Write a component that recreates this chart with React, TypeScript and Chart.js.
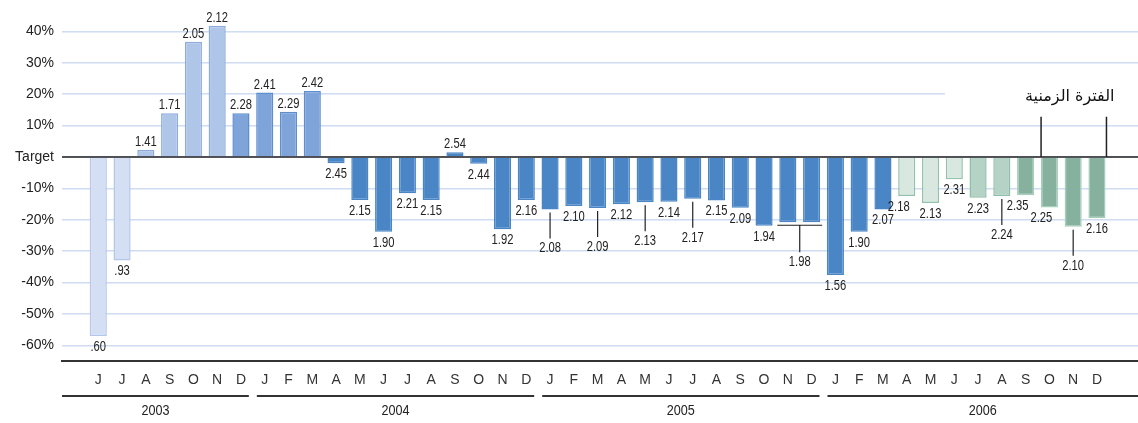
import { useEffect, useRef } from 'react';
import { Chart, registerables } from 'chart.js';

Chart.register(...registerables);

const months = ['J','J','A','S','O','N','D',
  'J','F','M','A','M','J','J','A','S','O','N','D',
  'J','F','M','A','M','J','J','A','S','O','N','D',
  'J','F','M','A','M','J','J','A','S','O','N','D'];

const values = [-57, -33, 2.2, 13.9, 36.7, 41.8, 13.9,
  20.5, 14.4, 21.0, -2.0, -13.7, -23.8, -11.6, -13.7, 1.5, -2.2, -23.0, -13.7,
  -16.7, -15.6, -16.3, -15.1, -14.4, -14.3, -13.3, -13.9, -16.2, -21.9, -20.8, -20.8,
  -37.6, -23.8, -16.7, -12.4, -14.7, -7.1, -13.0, -12.4, -12.2, -16.1, -22.2, -19.5];

const valueLabels = ['.60', '.93', '1.41', '1.71', '2.05', '2.12', '2.28',
  '2.41', '2.29', '2.42', '2.45', '2.15', '1.90', '2.21', '2.15', '2.54', '2.44', '1.92', '2.16',
  '2.08', '2.10', '2.09', '2.12', '2.13', '2.14', '2.17', '2.15', '2.09', '1.94', '1.98', '',
  '1.56', '1.90', '2.07', '2.18', '2.13', '2.31', '2.23', '2.24', '2.35', '2.25', '2.10', '2.16'];

const leaderIdx = [19, 21, 23, 25, 38, 41];
const bracketPair = [29, 30];
const shiftLeftIdx = [34, 39, 40];

const years = ['2003', '2004', '2005', '2006'];
const yearStarts = [0, 7, 19, 31];

const yTicks = [40, 30, 20, 10, 0, -10, -20, -30, -40, -50, -60];
const periodLabel = 'الفترة الزمنية';
const periodBounds = [39.65, 42.4];

const FONT = '"Liberation Sans", Arial, sans-serif';

function barColors(i: number): [string, string] {
  if (i <= 1) return ['#d4dff3', '#b3c7eb'];
  if (i <= 5) return ['#b0c6e8', '#8dacde'];
  if (i <= 9) return ['#7ea4d9', '#5d8ed0'];
  if (i <= 33) return ['#4a86c6', '#4a86c6'];
  if (i <= 36) return ['#d8e8e1', '#92c2aa'];
  if (i <= 38) return ['#b4d3c6', '#90bfa9'];
  return ['#86b19e', '#a6cebb'];
}

function narrowText(ctx: CanvasRenderingContext2D, txt: string, x: number, y: number, sx = 0.8) {
  ctx.save();
  ctx.translate(x, y);
  ctx.scale(sx, 1);
  ctx.fillText(txt, 0, 0);
  ctx.restore();
}

const overlay = {
  id: 'overlay',
  afterDraw(chart: any) {
    const { ctx, chartArea, scales } = chart;
    const x = scales.x;
    const y = scales.y;
    const meta = chart.getDatasetMeta(0);
    ctx.save();
    // target line
    const y0 = y.getPixelForValue(0);
    ctx.strokeStyle = '#222';
    ctx.lineWidth = 1.5;
    ctx.beginPath();
    ctx.moveTo(chartArea.left, y0);
    ctx.lineTo(chartArea.right, y0);
    ctx.stroke();

    ctx.font = '14px ' + FONT;
    ctx.fillStyle = '#222';
    ctx.strokeStyle = '#222';
    ctx.lineWidth = 1.2;
    ctx.textAlign = 'center';
    values.forEach((v, i) => {
      const bar = meta.data[i];
      const cx = bar.x - (shiftLeftIdx.includes(i) ? 8 : 0);
      const end = bar.y;
      const txt = valueLabels[i];
      if (v >= 0) {
        ctx.textBaseline = 'alphabetic';
        narrowText(ctx, txt, cx, end - 4);
      } else if (leaderIdx.includes(i)) {
        ctx.beginPath();
        ctx.moveTo(bar.x, end + 3);
        ctx.lineTo(bar.x, end + 29);
        ctx.stroke();
        ctx.textBaseline = 'top';
        narrowText(ctx, txt, bar.x, end + 32);
      } else if (i === bracketPair[0]) {
        const b2 = meta.data[bracketPair[1]];
        const l = bar.x - bar.width / 2 - 2;
        const r = b2.x + b2.width / 2 + 2;
        const by = Math.max(end, b2.y) + 3;
        const mx = (bar.x + b2.x) / 2;
        ctx.beginPath();
        ctx.moveTo(l, by);
        ctx.lineTo(r, by);
        ctx.moveTo(mx, by);
        ctx.lineTo(mx, by + 27);
        ctx.stroke();
        ctx.textBaseline = 'top';
        narrowText(ctx, txt, mx, by + 30);
      } else if (txt) {
        ctx.textBaseline = 'top';
        narrowText(ctx, txt, cx, end + 4);
      }
    });

    // period annotation
    const pl = x.getPixelForValue(periodBounds[0]);
    const pr = x.getPixelForValue(periodBounds[1]);
    ctx.fillStyle = '#ffffff';
    ctx.fillRect(945, y.getPixelForValue(20) - 7, chartArea.right - 945, 14);
    ctx.fillStyle = '#111';
    ctx.font = '16px "DejaVu Sans", "Noto Sans", sans-serif';
    ctx.textBaseline = 'middle';
    ctx.textAlign = 'center';
    ctx.fillText(periodLabel, (pl + pr) / 2 - 4, y.getPixelForValue(19.3));
    ctx.strokeStyle = '#222';
    ctx.lineWidth = 1.5;
    ctx.beginPath();
    ctx.moveTo(pl, y.getPixelForValue(12.8));
    ctx.lineTo(pl, y0);
    ctx.moveTo(pr, y.getPixelForValue(12.8));
    ctx.lineTo(pr, y0);
    ctx.stroke();

    // year lines and labels
    ctx.font = '14px ' + FONT;
    ctx.fillStyle = '#222';
    ctx.strokeStyle = '#333';
    ctx.lineWidth = 2;
    const lineY = chartArea.bottom + 35;
    years.forEach((yr, k) => {
      const startIdx = yearStarts[k];
      const endIdx = k + 1 < yearStarts.length ? yearStarts[k + 1] : months.length;
      const left = k === 0 ? chartArea.left : x.getPixelForValue(startIdx - 0.5) + 4;
      const right = k === years.length - 1 ? chartArea.right : x.getPixelForValue(endIdx - 0.5) - 4;
      ctx.beginPath();
      ctx.moveTo(left, lineY);
      ctx.lineTo(right, lineY);
      ctx.stroke();
      ctx.textBaseline = 'middle';
      narrowText(ctx, yr, (left + right) / 2, lineY + 15, 0.9);
    });
    ctx.restore();
  },
};

export default function App() {
  const ref = useRef<HTMLCanvasElement | null>(null);
  useEffect(() => {
    if (!ref.current) return;
    const chart = new Chart(ref.current, {
      type: 'bar',
      data: {
        datasets: [{
          data: values.map((v, i) => ({ x: i, y: v })),
          backgroundColor: values.map((_, i) => barColors(i)[0]),
          borderColor: values.map((_, i) => barColors(i)[1]),
          borderWidth: 1.5,
          borderSkipped: 'start',
          barPercentage: 0.72,
          categoryPercentage: 1,
        }],
      },
      options: {
        animation: false,
        responsive: false,
        maintainAspectRatio: false,
        layout: { padding: 0 },
        plugins: { legend: { display: false }, tooltip: { enabled: false } },
        scales: {
          x: {
            type: 'linear',
            min: -1,
            max: 43.2,
            afterBuildTicks: (s: any) => { s.ticks = months.map((_, i) => ({ value: i })); },
            afterFit: (s: any) => { s.height = 62; s.paddingLeft = 0; s.paddingRight = 0; },
            ticks: {
              autoSkip: false,
              maxRotation: 0,
              padding: 11,
              color: '#333',
              font: { family: FONT, size: 14 },
              callback: (v: any) => months[v as number] ?? '',
            },
            grid: { display: false, drawTicks: false },
            border: { display: true, color: '#333', width: 2 },
          },
          y: {
            min: -65,
            max: 50,
            afterBuildTicks: (s: any) => { s.ticks = yTicks.map((v) => ({ value: v })); },
            afterFit: (s: any) => { s.width = 62; s.paddingTop = 0; s.paddingBottom = 0; },
            ticks: {
              padding: 8,
              color: '#222',
              font: { family: FONT, size: 14 },
              callback: (v: any) => (v === 0 ? 'Target' : v + '%'),
            },
            grid: {
              color: '#cfdcf1',
              lineWidth: 1.5,
              drawTicks: false,
            },
            border: { display: false },
          },
        },
      },
      plugins: [overlay],
    });
    return () => chart.destroy();
  }, []);
  return (
    <div style={{ position: 'absolute', left: 0, top: 0, width: 1138, height: 423, background: '#fff' }}>
      <canvas ref={ref} width={1138} height={423} style={{ width: 1138, height: 423 }} />
    </div>
  );
}
